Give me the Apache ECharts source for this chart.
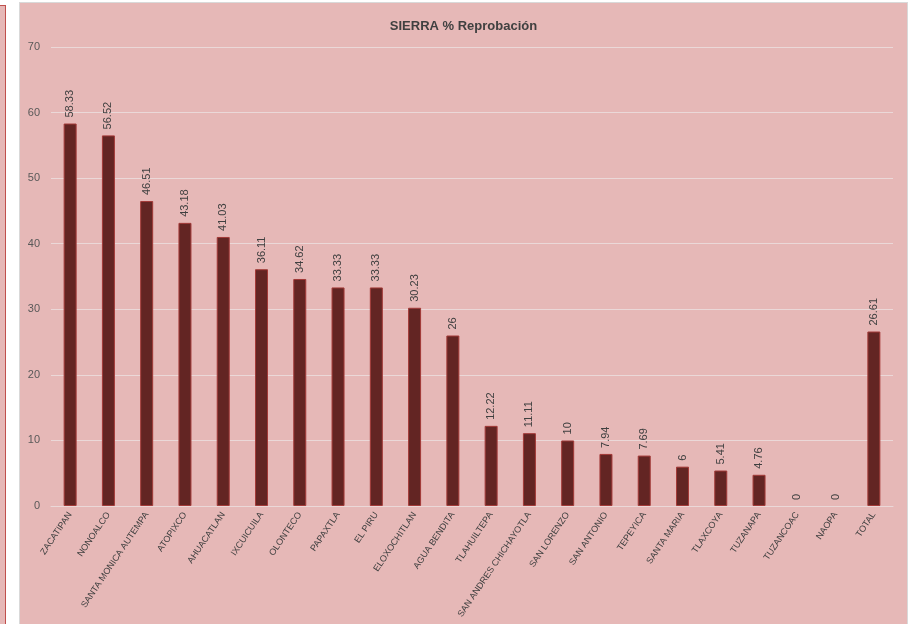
<!DOCTYPE html>
<html>
<head>
<meta charset="utf-8">
<script src="https://cdn.jsdelivr.net/npm/echarts@6/dist/echarts.min.js"></script>
<style>
  html, body { margin: 0; padding: 0; background: #ffffff; width: 908px; height: 624px; overflow: hidden; }
  #strip { position: absolute; left: -10px; top: 5px; width: 14px; height: 640px; background: #E6B8B7; border: 1px solid #C0504D; }
  #chart { position: absolute; left: 19px; top: 2px; width: 887px; height: 640px; background: #E6B8B7; border: 1px solid #D9D9D9; }
</style>
</head>
<body>
<div id="strip"></div>
<div id="chart"></div>
<script>
const categories = [
  'ZACATIPAN', 'NONOALCO', 'SANTA MONICA AUTEMPA', 'ATOPIXCO', 'AHUACATLAN',
  'IXCUICUILA', 'OLONTECO', 'PAPAXTLA', 'EL PIRU', 'ELOXOCHITLAN',
  'AGUA BENDITA', 'TLAHUILTEPA', 'SAN ANDRES CHICHAYOTLA', 'SAN LORENZO', 'SAN ANTONIO',
  'TEPEYICA', 'SANTA MARIA', 'TLAXCOYA', 'TUZANAPA', 'TUZANCOAC', 'NAOPA', 'TOTAL'
]
const reprobacion = [
  58.33, 56.52, 46.51, 43.18, 41.03,
  36.11, 34.62, 33.33, 33.33, 30.23,
  26, 12.22, 11.11, 10, 7.94,
  7.69, 6, 5.41, 4.76, 0, 0, 26.61
]
const titleText = 'SIERRA % Reprobación'

const font = '"Liberation Sans Narrow", "Liberation Sans", Arial, sans-serif'
const chart = echarts.init(document.getElementById('chart'), null, { width: 887, height: 621 })

chart.setOption({
  backgroundColor: 'transparent',
  animation: false,
  title: {
    text: titleText,
    left: 'center',
    top: 12,
    textStyle: { fontFamily: font, fontSize: 13, fontWeight: 'bold', color: '#404040' }
  },
  grid: { left: 31, right: 14, top: 44, bottom: 118, containLabel: false },
  xAxis: {
    type: 'category',
    data: categories,
    axisLine: { lineStyle: { color: '#EBD8D8', width: 1 } },
    axisTick: { show: false },
    axisLabel: {
      rotate: 56,
      interval: 0,
      margin: 7,
      fontFamily: font,
      fontSize: 9,
      color: '#404040'
    }
  },
  yAxis: {
    type: 'value',
    min: 0,
    max: 70,
    interval: 10,
    axisLine: { show: false },
    axisTick: { show: false },
    axisLabel: { margin: 11, fontFamily: font, fontSize: 11, color: '#595959' },
    splitLine: { lineStyle: { color: '#EBD8D8', width: 1 } }
  },
  series: [{
    type: 'bar',
    data: reprobacion.map(v => v === 0 ? { value: v, itemStyle: { borderWidth: 0 } } : v),
    barWidth: 13,
    itemStyle: { color: '#632523', borderColor: '#A33A38', borderWidth: 1 },
    label: {
      show: true,
      position: 'top',
      rotate: 90,
      align: 'left',
      verticalAlign: 'middle',
      distance: 6,
      fontFamily: font,
      fontSize: 11,
      color: '#404040'
    }
  }]
})
</script>
</body>
</html>
